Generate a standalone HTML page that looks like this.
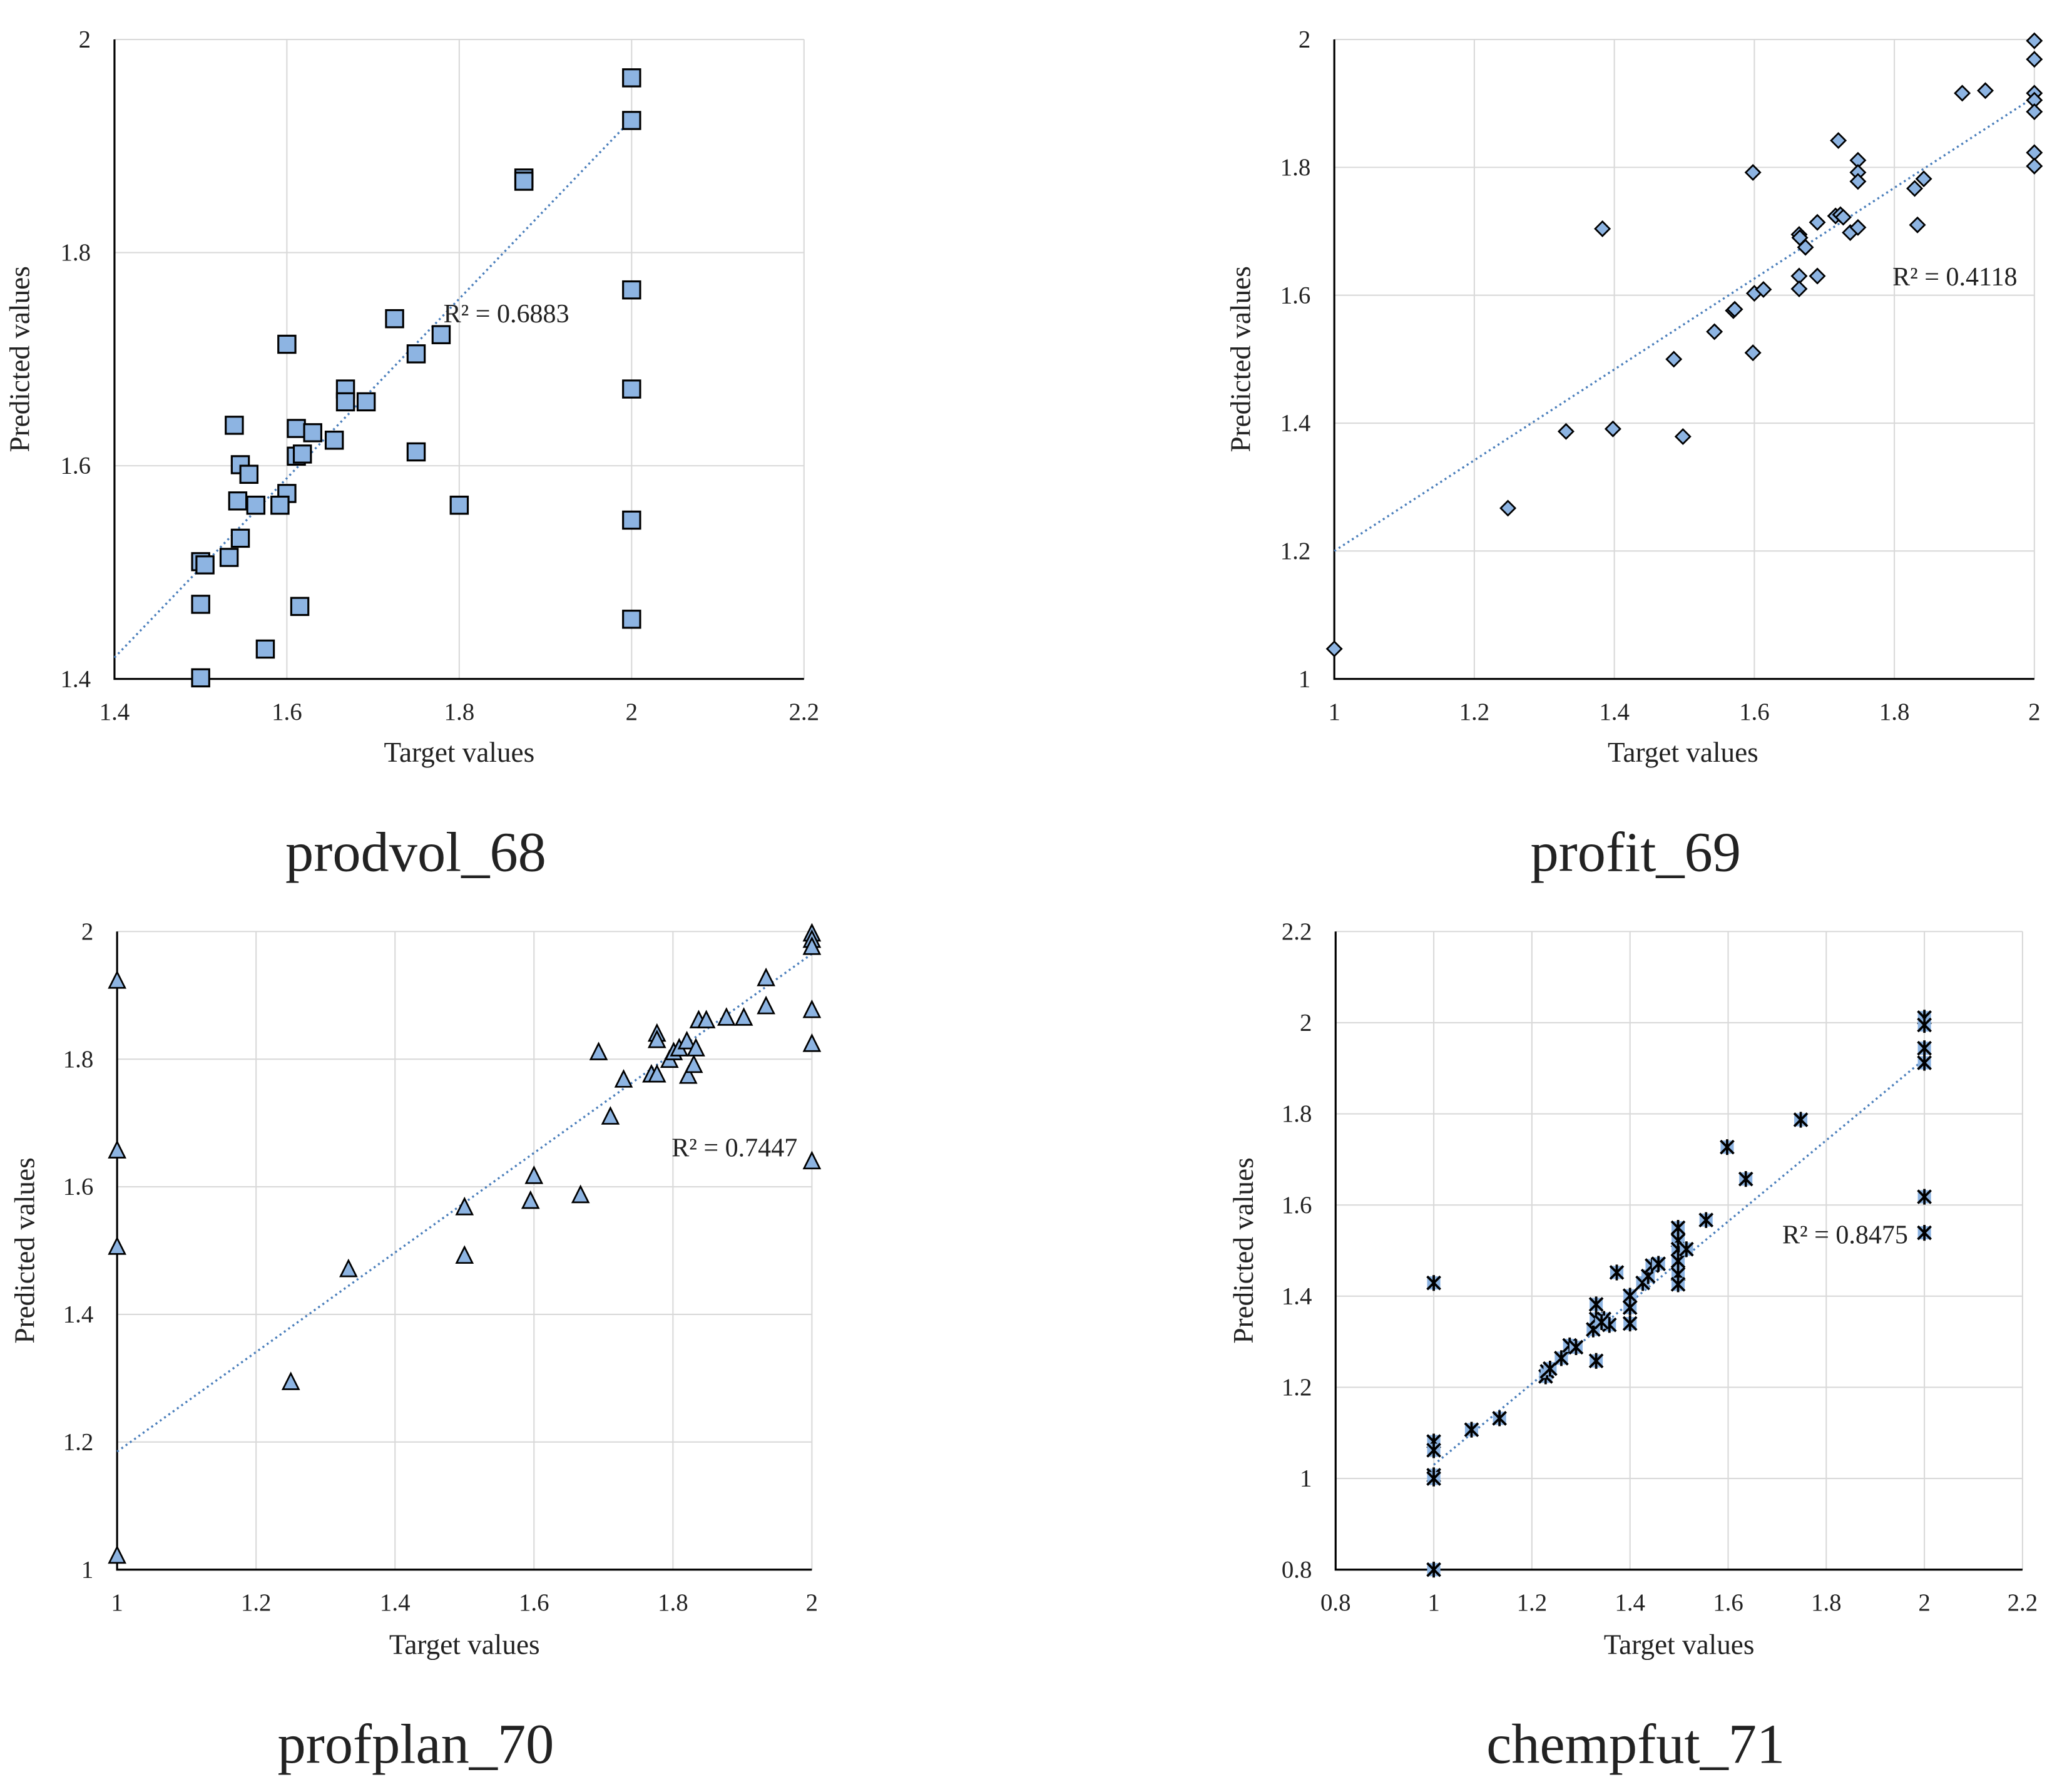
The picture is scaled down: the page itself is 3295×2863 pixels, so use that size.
<!DOCTYPE html>
<html><head><meta charset="utf-8"><style>
html,body{margin:0;padding:0;background:#fff;}
svg{display:block;}
text{font-family:"Liberation Serif",serif;fill:#222;}
</style></head><body>
<svg id="root" width="3295" height="2863" viewBox="0 0 1567 1362" preserveAspectRatio="none" xmlns="http://www.w3.org/2000/svg">
</svg>
<script>
// chart 1: prodvol_68
const p1x=[2,2,1.875,1.875,2,1.725,1.779,1.6,1.75,2,1.668,1.668,1.692,1.539,1.611,1.63,1.655,1.75,1.611,1.618,1.546,1.556,1.6,1.543,1.564,1.592,1.8,2,1.546,1.5,1.505,1.533,1.5,1.615,2,1.575,1.5];
const p1y=[1.964,1.924,1.870,1.867,1.765,1.738,1.723,1.714,1.705,1.672,1.672,1.66,1.66,1.638,1.635,1.631,1.624,1.613,1.609,1.611,1.601,1.592,1.574,1.567,1.563,1.563,1.563,1.549,1.532,1.51,1.507,1.514,1.47,1.468,1.456,1.428,1.401];
const t1=[1.4,1.6,1.8,2,2.2], u1=[1.4,1.6,1.8,2];
// chart 2: profit_69
const p2x=[1,1.248,1.331,1.398,1.383,1.485,1.498,1.543,1.57,1.572,1.598,1.598,1.6,1.613,1.664,1.665,1.664,1.664,1.673,1.69,1.69,1.716,1.723,1.727,1.72,1.737,1.748,1.748,1.748,1.748,1.829,1.842,1.833,1.897,1.93,2,2,2,2,2,2,2];
const p2y=[1.047,1.267,1.387,1.391,1.704,1.5,1.379,1.543,1.576,1.578,1.792,1.51,1.603,1.609,1.695,1.69,1.63,1.61,1.675,1.63,1.714,1.724,1.726,1.722,1.842,1.698,1.811,1.792,1.778,1.706,1.767,1.782,1.71,1.916,1.92,1.998,1.969,1.916,1.905,1.887,1.823,1.802];
const t2=[1,1.2,1.4,1.6,1.8,2], u2=[1,1.2,1.4,1.6,1.8,2];
// chart 3: profplan_70
const p3x=[1,1,1,1,1.25,1.333,1.5,1.5,1.595,1.6,1.667,1.693,1.71,1.729,1.769,1.777,1.777,1.777,1.795,1.801,1.809,1.82,1.822,1.83,1.833,1.837,1.848,1.877,1.902,1.934,1.934,2,2,2,2,2,2];
const p3y=[1.922,1.656,1.505,1.021,1.293,1.47,1.567,1.491,1.577,1.616,1.586,1.81,1.709,1.767,1.775,1.775,1.839,1.829,1.798,1.81,1.816,1.827,1.773,1.79,1.816,1.86,1.86,1.864,1.864,1.926,1.882,1.996,1.986,1.975,1.876,1.823,1.639];
const t3=[1,1.2,1.4,1.6,1.8,2], u3=[1,1.2,1.4,1.6,1.8,2];
// chart 4: chempfut_71
const p4x=[1,1,1,1,1,1,1.077,1.134,1.228,1.231,1.237,1.26,1.277,1.29,1.331,1.325,1.331,1.331,1.347,1.358,1.342,1.373,1.4,1.4,1.4,1.426,1.437,1.445,1.458,1.498,1.498,1.498,1.498,1.498,1.498,1.515,1.555,1.598,1.636,1.748,2,2,2,2,2,2];
const p4y=[1.429,0.8,1.081,1.062,1.007,1.0,1.107,1.132,1.224,1.235,1.241,1.264,1.292,1.288,1.258,1.327,1.35,1.382,1.35,1.337,1.343,1.452,1.401,1.375,1.34,1.429,1.444,1.467,1.471,1.55,1.522,1.503,1.477,1.448,1.426,1.503,1.567,1.727,1.657,1.787,2.011,1.995,1.944,1.912,1.618,1.539];
const t4=[0.8,1,1.2,1.4,1.6,1.8,2,2.2], u4=[0.8,1,1.2,1.4,1.6,1.8,2,2.2];
const trends=[[1.4,1.42,2,1.925],[1,1.2,2,1.91],[1,1.185,2,1.965],[1,1.03,2,1.92]];
const r2=["R² = 0.6883","R² = 0.4118","R² = 0.7447","R² = 0.8475"];
const captions=["prodvol_68","profit_69","profplan_70","chempfut_71"];

const NS="http://www.w3.org/2000/svg";
const root=document.getElementById('root');
function mk(tag,attrs,parent){const e=document.createElementNS(NS,tag);for(const k in attrs)e.setAttribute(k,attrs[k]);parent.appendChild(e);return e;}

const cfg=[
 {L:87,R:611,T:30,B:516,x0:1.4,x1:2.2,y0:1.4,y1:2,xs:p1x,ys:p1y,xt:t1,yt:u1,m:'sq',r2:[337,245,'start'],cap:[316,650],tx:349,ty:579,yx:22},
 {L:1014,R:1546,T:30,B:516,x0:1,x1:2,y0:1,y1:2,xs:p2x,ys:p2y,xt:t2,yt:u2,m:'dia',r2:[1533,217,'end'],cap:[1243,650],tx:1279,ty:579,yx:950},
 {L:89,R:617,T:708,B:1193,x0:1,x1:2,y0:1,y1:2,xs:p3x,ys:p3y,xt:t3,yt:u3,m:'tri',r2:[606,879,'end'],cap:[316,1328],tx:353,ty:1257,yx:26},
 {L:1015,R:1537,T:708,B:1193,x0:0.8,x1:2.2,y0:0.8,y1:2.2,xs:p4x,ys:p4y,xt:t4,yt:u4,m:'star',r2:[1450,945,'end'],cap:[1243,1328],tx:1276,ty:1257,yx:952}
];
cfg.forEach((c,i)=>{
 const g=mk('g',{},root);
 
 
 const X=v=>c.L+(v-c.x0)/(c.x1-c.x0)*(c.R-c.L);
 const Y=v=>c.B-(v-c.y0)/(c.y1-c.y0)*(c.B-c.T);
 c.xt.forEach(v=>{
  if(v!==c.x0){const l=mk('line',{x1:X(v),x2:X(v),y1:c.T,y2:c.B,stroke:'#d9d9d9','stroke-width':1},g);
  
  }
  const t=mk('text',{x:X(v),y:c.B+31,'text-anchor':'middle','font-size':18.5},g);t.textContent=v;
  
  
 });
 c.yt.forEach(v=>{
  if(v!==c.y0){const l=mk('line',{x1:c.L,x2:c.R,y1:Y(v),y2:Y(v),stroke:'#d9d9d9','stroke-width':1},g);
  
  }
  const t=mk('text',{x:c.L-18,y:Y(v)+6,'text-anchor':'end','font-size':18.5},g);t.textContent=v;
  
  
 });
 const ax=mk('path',{d:`M${c.L},${c.T}V${c.B}H${c.R}`,stroke:'#000','stroke-width':1.5,fill:'none'},g);
 
 
 const tr=trends[i];
 const tl=mk('line',{x1:X(tr[0]),y1:Y(tr[1]),x2:X(tr[2]),y2:Y(tr[3]),stroke:'#4a7ebb','stroke-width':1.6,'stroke-dasharray':'1.5 2.5'},g);
 
 
 c.xs.forEach((xv,j)=>{
  const px=X(xv),py=Y(c.ys[j]);let e;
  if(c.m==='sq') e=mk('rect',{x:px-6.5,y:py-6.5,width:13,height:13,fill:'#8db4e2',stroke:'#000','stroke-width':1.5},g);
  else if(c.m==='dia') e=mk('polygon',{points:`${px},${py-5.5} ${px+5.5},${py} ${px},${py+5.5} ${px-5.5},${py}`,fill:'#8db4e2',stroke:'#000','stroke-width':1.3},g);
  else if(c.m==='tri') e=mk('polygon',{points:`${px},${py-7} ${px+6},${py+5} ${px-6},${py+5}`,fill:'#8db4e2',stroke:'#000','stroke-width':1.3},g);
  else {
   e=mk('g',{},g);
   mk('rect',{x:px-5,y:py-5,width:10,height:10,fill:'#8db4e2'},e);
   mk('path',{d:`M${px-5},${py-5}L${px+5},${py+5}M${px+5},${py-5}L${px-5},${py+5}M${px},${py-6}V${py+6}`,stroke:'#000','stroke-width':1.8,fill:'none'},e);
  }
  
  
 });
 const rt=mk('text',{x:c.r2[0],y:c.r2[1],'text-anchor':c.r2[2],'font-size':20},g);rt.textContent=r2[i];
 
 
 const xt=mk('text',{x:c.tx,y:c.ty,'text-anchor':'middle','font-size':21.5},g);xt.textContent='Target values';
 
 
 const cy=(c.T+c.B)/2;
 const yt=mk('text',{x:c.yx,y:cy,'text-anchor':'middle','font-size':21.5,transform:`rotate(-90 ${c.yx} ${cy})`},g);yt.textContent='Predicted values';
 
 
 const cp=mk('text',{x:c.cap[0],y:c.cap[1]+12,'text-anchor':'middle','font-size':43},g);cp.textContent=captions[i];
 
 
});
</script>
</body></html>
